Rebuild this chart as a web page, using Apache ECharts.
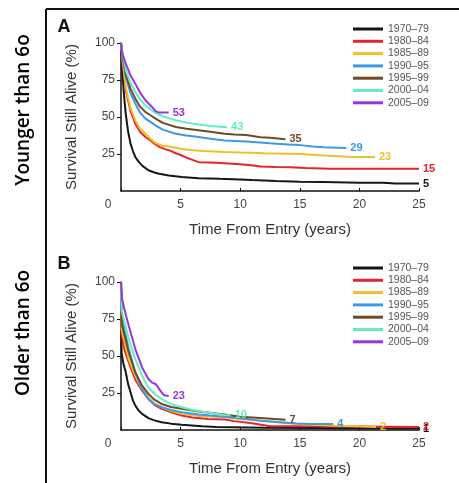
<!DOCTYPE html>
<html>
<head>
<meta charset="UTF-8">
<title>Survival by era</title>
<script src="https://cdn.jsdelivr.net/npm/echarts@6/dist/echarts.min.js"></script>
<style>
  html, body { margin: 0; padding: 0; background: #fff; }
  #chart { width: 459px; height: 483px; }
</style>
</head>
<body>
<div id="chart"></div>
<script>
// eras (legend) and colours
var eras = ['1970–79', '1980–84', '1985–89', '1990–95', '1995–99', '2000–04', '2005–09'];
var eraColors = ['#161616', '#e8232b', '#f2be2a', '#3a9ae6', '#6e4a26', '#62eec2', '#9a34de'];
var xTicks = [0, 5, 10, 15, 20, 25];

// A: younger than 60, [years, % alive]
var youngA70 = [[0,100],[0.1,82],[0.25,65],[0.4,52],[0.6,40],[0.8,32],[1.0,27],[1.2,23],[1.5,19.5],[1.8,17],[2.3,14],[2.8,12.5],[3.2,11.7],[4,10.5],[5.1,9.5],[6.5,8.6],[8.3,8.2],[9.4,8],[11,7.4],[13,6.8],[15,6.3],[17,6],[20,5.6],[22,5.5],[23,5.1],[25,5]];
var youngA80 = [[0,100],[0.1,90],[0.4,68],[0.8,54],[1.2,45.5],[1.6,40],[2.05,36.5],[2.5,34],[2.9,31.5],[3.3,29.5],[3.7,28.3],[4.2,27],[4.6,25.5],[5.1,24],[5.5,22.5],[6,21],[6.5,19.5],[7.5,19.3],[8.7,18.8],[10,18],[11.1,17.2],[11.7,16.5],[13,16.2],[14.2,16],[15.5,15.5],[17.5,15],[20,15],[25,15]];
var youngA85 = [[0,100],[0.1,91],[0.4,70],[0.8,56],[1.2,47.8],[1.6,42],[2.05,38.7],[2.5,35],[2.9,32.4],[3.5,30.5],[4.3,29.7],[5,28.5],[6,27.5],[7,27],[8.7,26.4],[10,26],[12,25.5],[15,25],[17,24],[19,23.2],[20,23],[21.3,23]];
var youngA90 = [[0,100],[0.1,93],[0.4,77],[0.8,66],[1.2,59],[1.6,53],[2.05,48.9],[2.5,46.5],[2.9,44.4],[3.5,41.5],[4.6,38.7],[5.5,37.5],[6.5,36.5],[7.5,35.3],[8.7,34.2],[10.5,33.5],[12.5,32.2],[14,31.5],[15,31],[16.1,30],[17,29.5],[18.9,29]];
var youngA95 = [[0,100],[0.1,94],[0.4,79],[0.8,69],[1.2,62.4],[1.6,57],[2.05,53.4],[2.5,51],[2.9,48.9],[3.5,46],[4.6,43.2],[5.5,42],[6.5,41],[7.5,40],[8.7,38.7],[9.5,38.2],[10.5,37.8],[11.7,36.3],[12.5,36],[13.8,35]];
var youngA00 = [[0,100],[0.1,95],[0.4,81.5],[0.8,73],[1.2,66.9],[1.6,62],[2.05,57.9],[2.5,55],[2.9,52.7],[3.5,50.5],[4.6,47.8],[5.5,46.2],[6.5,45],[7.5,44],[8.9,43]];
var youngA05 = [[0,100],[0.1,93],[0.4,86],[0.8,78],[1.2,72.5],[1.6,66.5],[2.05,61.3],[2.6,56.8],[2.9,54],[3.2,53],[4.0,53]];

// B: older than 60
var oldB70 = [[0,100],[0.05,52],[0.2,45],[0.4,39],[0.6,31],[0.8,25.5],[1.0,20],[1.2,16.5],[1.5,13],[1.77,10.9],[2.3,8],[2.8,6.5],[3.4,5.3],[4.2,4.3],[5.1,3.5],[6.8,2.6],[8,2],[12,1.5],[16,1.3],[20,1.2],[25,1]];
var oldB80 = [[0,100],[0.05,65],[0.3,54],[0.65,45.7],[1.2,34],[1.77,26.6],[2.3,21],[2.8,17],[3.4,14.3],[4.2,12],[5.1,9.8],[6,8.5],[7.3,7.5],[8.7,7.1],[9.5,6],[11,4.5],[12.5,2.6],[15,2.5],[20,2.3],[25,2]];
var oldB85 = [[0,100],[0.05,68],[0.1,66],[0.65,47.9],[1.2,36.7],[1.77,27.7],[2.3,22],[2.8,18],[3.4,15.4],[4.2,12.8],[5.1,10.9],[6.5,9.5],[8.7,8.6],[10,7.5],[12,6],[14,4.5],[16,3.5],[18,2.8],[20,2.5],[21.4,2]];
var oldB90 = [[0,100],[0.05,80],[0.1,75],[0.65,54.7],[1.2,39],[1.77,27.7],[2.3,21],[2.8,17.5],[3.4,15.4],[4.2,13.5],[5.1,12],[6.5,10.5],[8.7,9],[10,8],[12,6],[14.7,4.4],[16,4],[17.8,4]];
var oldB95 = [[0,100],[0.05,74],[0.1,70.4],[0.65,52.4],[1.2,39],[1.77,30],[2.3,24.4],[2.8,20.5],[3.4,17.6],[4.2,15.5],[5.1,14.3],[6.5,12.5],[8.7,10.5],[10,9],[12,8],[13.8,7]];
var oldB00 = [[0,100],[0.05,82],[0.1,79.3],[0.65,61.4],[1.2,47.9],[1.77,36.7],[2.3,28.8],[2.8,24.5],[3.4,21],[4.2,17.5],[5.1,15.4],[6,13.5],[7.1,12],[8.7,10.2],[9.2,10]];
var oldB05 = [[0,100],[0.1,88],[0.4,78],[0.65,70.4],[1.2,54.7],[1.77,42.3],[2.3,34.5],[2.6,32],[2.9,31.1],[3.1,29],[3.3,26.6],[3.6,23.5],[4.0,23]];

var panelA = [youngA70, youngA80, youngA85, youngA90, youngA95, youngA00, youngA05];
var panelB = [oldB70, oldB80, oldB85, oldB90, oldB95, oldB00, oldB05];

var chart = echarts.init(document.getElementById('chart'));

function makeX(idx) {
  return {
    gridIndex: idx, type: 'value', min: 0, max: 25, interval: 5,
    name: 'Time From Entry (years)', nameLocation: 'middle', nameGap: 31,
    nameTextStyle: { fontSize: 15, color: '#333', fontFamily: 'Liberation Sans' },
    axisLine: { lineStyle: { color: '#111', width: 1.5 } },
    axisTick: { inside: true, length: 3, lineStyle: { color: '#111' } },
    splitLine: { show: false },
    axisLabel: {
      margin: 8, fontSize: 12, color: '#444', fontFamily: 'Liberation Sans',
      formatter: function (v) { return v === 0 ? '{z|0}' : String(v); },
      rich: { z: { fontSize: 12, color: '#444', padding: [0, 26, 0, 0] } }
    }
  };
}
function makeY(idx) {
  return {
    gridIndex: idx, type: 'value', min: 0, max: 100, interval: 25,
    name: 'Survival Still Alive (%)', nameLocation: 'middle', nameGap: 42,
    nameTextStyle: { fontSize: 15, color: '#333', fontFamily: 'Liberation Sans' },
    axisLine: { show: true, lineStyle: { color: '#111', width: 1.5 } },
    axisTick: { show: true, length: 4, lineStyle: { color: '#111' } },
    splitLine: { show: false },
    axisLabel: { margin: 6, fontSize: 12, color: '#444', fontFamily: 'Liberation Sans', showMinLabel: false }
  };
}
function makeLegend(top) {
  return {
    data: eras, orient: 'vertical', left: 353, top: top, padding: 0,
    icon: 'rect', itemWidth: 30, itemHeight: 3, itemGap: 0.3,
    selectedMode: false,
    textStyle: { fontSize: 10.5, lineHeight: 12, color: '#555', fontFamily: 'Liberation Sans' }
  };
}

var series = [];
[panelA, panelB].forEach(function (panel, p) {
  panel.forEach(function (pts, i) {
    series.push({
      name: eras[i], type: 'line', xAxisIndex: p, yAxisIndex: p,
      data: pts, showSymbol: false, symbol: 'none', color: eraColors[i],
      lineStyle: { width: 2 },
      endLabel: {
        show: true, distance: 4, fontSize: 11, fontWeight: 'bold', color: eraColors[i],
        fontFamily: 'Liberation Sans',
        formatter: function (prm) { return String(prm.value[1]); }
      }
    });
  });
});

var option = {
  animation: false,
  backgroundColor: '#fff',
  grid: [
    { left: 121, top: 43, width: 298, height: 148 },
    { left: 121, top: 282, width: 298, height: 148 }
  ],
  xAxis: [makeX(0), makeX(1)],
  yAxis: [makeY(0), makeY(1)],
  legend: [makeLegend(23), makeLegend(262)],
  series: series,
  graphic: [
    { type: 'line', shape: { x1: 46, y1: 9, x2: 46, y2: 483 }, style: { stroke: '#111', lineWidth: 2 } },
    { type: 'line', shape: { x1: 46, y1: 9, x2: 459, y2: 9 }, style: { stroke: '#111', lineWidth: 2 } },
    { type: 'text', x: 24, y: 110, rotation: Math.PI / 2,
      style: { text: 'Younger than 6o', font: '600 19px "Open Sans"', fill: '#000', align: 'center', verticalAlign: 'middle' } },
    { type: 'text', x: 24, y: 333, rotation: Math.PI / 2,
      style: { text: 'Older than 6o', font: '600 19px "Open Sans"', fill: '#000', align: 'center', verticalAlign: 'middle' } },
    { type: 'text', x: 64, y: 27,
      style: { text: 'A', font: 'bold 18px "Liberation Sans"', fill: '#111', align: 'center', verticalAlign: 'middle' } },
    { type: 'text', x: 64, y: 264,
      style: { text: 'B', font: 'bold 18px "Liberation Sans"', fill: '#111', align: 'center', verticalAlign: 'middle' } }
  ]
};

chart.setOption(option);
</script>
</body>
</html>
